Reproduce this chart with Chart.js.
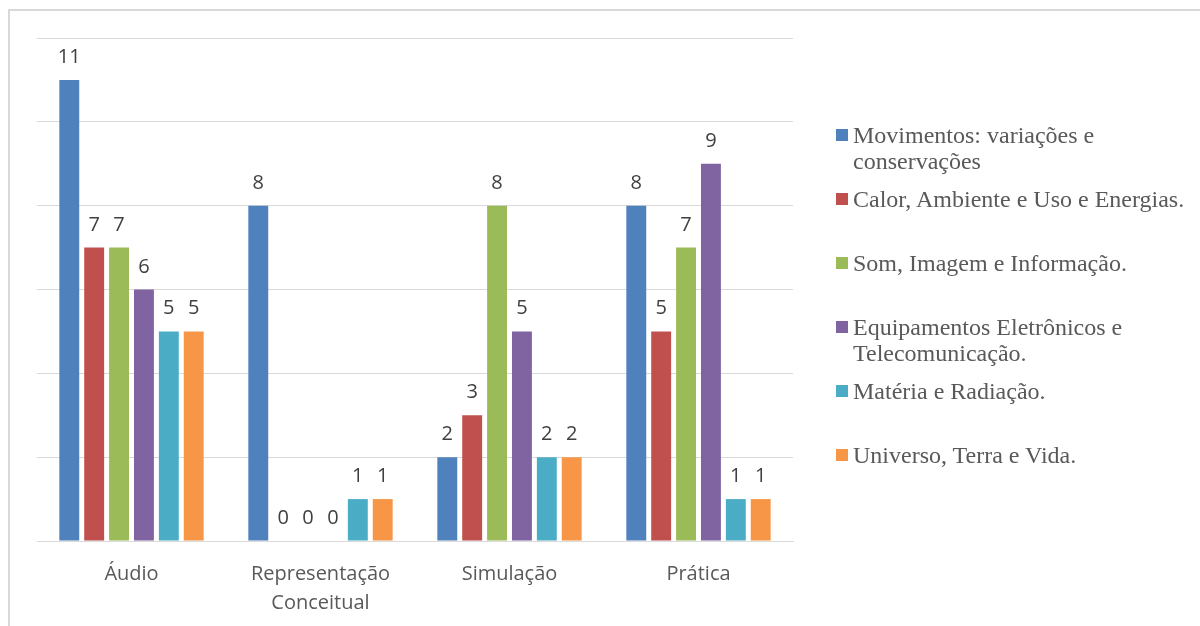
<!DOCTYPE html>
<html>
<head>
<meta charset="utf-8">
<script src="https://cdn.jsdelivr.net/npm/chart.js@4/dist/chart.umd.min.js"></script>
<style>
  html, body { margin: 0; padding: 0; background: #fff; }
  #wrap { position: relative; width: 1200px; height: 626px; overflow: hidden; }
  #frame {
    position: absolute; left: 8px; top: 9px; width: 1300px; height: 700px;
    border: 2px solid #d9d9d9; box-sizing: border-box;
  }
  #chart { position: absolute; left: 0; top: 0; }
  #legend {
    position: absolute; left: 836px; top: 122px; width: 355px;
    font-family: "Liberation Serif", "Times New Roman", serif;
    font-size: 24px; color: #595959; line-height: 26px;
  }
  .item { position: relative; height: 64px; padding-left: 17px; }
  .item .box { position: absolute; left: 0; top: 7px; width: 12px; height: 12px; }
</style>
</head>
<body>
<div id="wrap">
  <div id="frame"></div>
  <canvas id="chart" width="1200" height="626"></canvas>
  <div id="legend"></div>
</div>
<script>
const categories = ["Áudio", ["Representação", "Conceitual"], "Simulação", "Prática"];

const seriesNames = [
  "Movimentos: variações e conservações",
  "Calor, Ambiente e Uso e Energias.",
  "Som, Imagem e Informação.",
  "Equipamentos Eletrônicos e Telecomunicação.",
  "Matéria e Radiação.",
  "Universo, Terra e Vida."
];

const movimentos = [11, 8, 2, 8];
const calor = [7, 0, 3, 5];
const som = [7, 0, 8, 7];
const equipamentos = [6, 0, 5, 9];
const materia = [5, 1, 2, 1];
const universo = [5, 1, 2, 1];

const colors = ["#4f81bd", "#c0504d", "#9bbb59", "#8064a2", "#4bacc6", "#f79646"];
const values = [movimentos, calor, som, equipamentos, materia, universo];

// value labels above each bar, zeros included
const valueLabels = {
  id: "valueLabels",
  afterDatasetsDraw(chart) {
    const ctx = chart.ctx;
    ctx.save();
    ctx.font = '20px "Open Sans", sans-serif';
    ctx.fillStyle = "#404040";
    ctx.textAlign = "center";
    ctx.textBaseline = "alphabetic";
    chart.data.datasets.forEach((ds, i) => {
      chart.getDatasetMeta(i).data.forEach((bar, j) => {
        ctx.fillText(String(ds.data[j]), bar.x, bar.y - 17);
      });
    });
    ctx.restore();
  }
};

new Chart(document.getElementById("chart"), {
  type: "bar",
  data: {
    labels: categories,
    datasets: values.map((data, i) => ({
      label: seriesNames[i],
      data: data,
      backgroundColor: colors[i],
      barPercentage: 0.8,
      categoryPercentage: 0.79
    }))
  },
  options: {
    responsive: false,
    animation: false,
    layout: { padding: { left: 37, top: 38, right: 407, bottom: 0 } },
    plugins: { legend: { display: false }, tooltip: { enabled: false } },
    scales: {
      x: {
        grid: { display: false },
        border: { color: "#d9d9d9", width: 1 },
        ticks: {
          color: "#595959",
          font: { family: "Open Sans", size: 20, lineHeight: 1.45 },
          padding: 11,
          maxRotation: 0
        },
        afterFit(scale) { scale.height = 85; }
      },
      y: {
        min: 0,
        max: 12,
        ticks: { display: false, stepSize: 2 },
        grid: { color: "#d9d9d9", lineWidth: 1, drawTicks: false },
        border: { display: false },
        afterFit(scale) { scale.width = 0; }
      }
    }
  },
  plugins: [valueLabels]
});

// legend with wrapped entries
const legend = document.getElementById("legend");
seriesNames.forEach((name, i) => {
  const item = document.createElement("div");
  item.className = "item";
  const box = document.createElement("span");
  box.className = "box";
  box.style.background = colors[i];
  item.appendChild(box);
  item.appendChild(document.createTextNode(name));
  legend.appendChild(item);
});
</script>
</body>
</html>
